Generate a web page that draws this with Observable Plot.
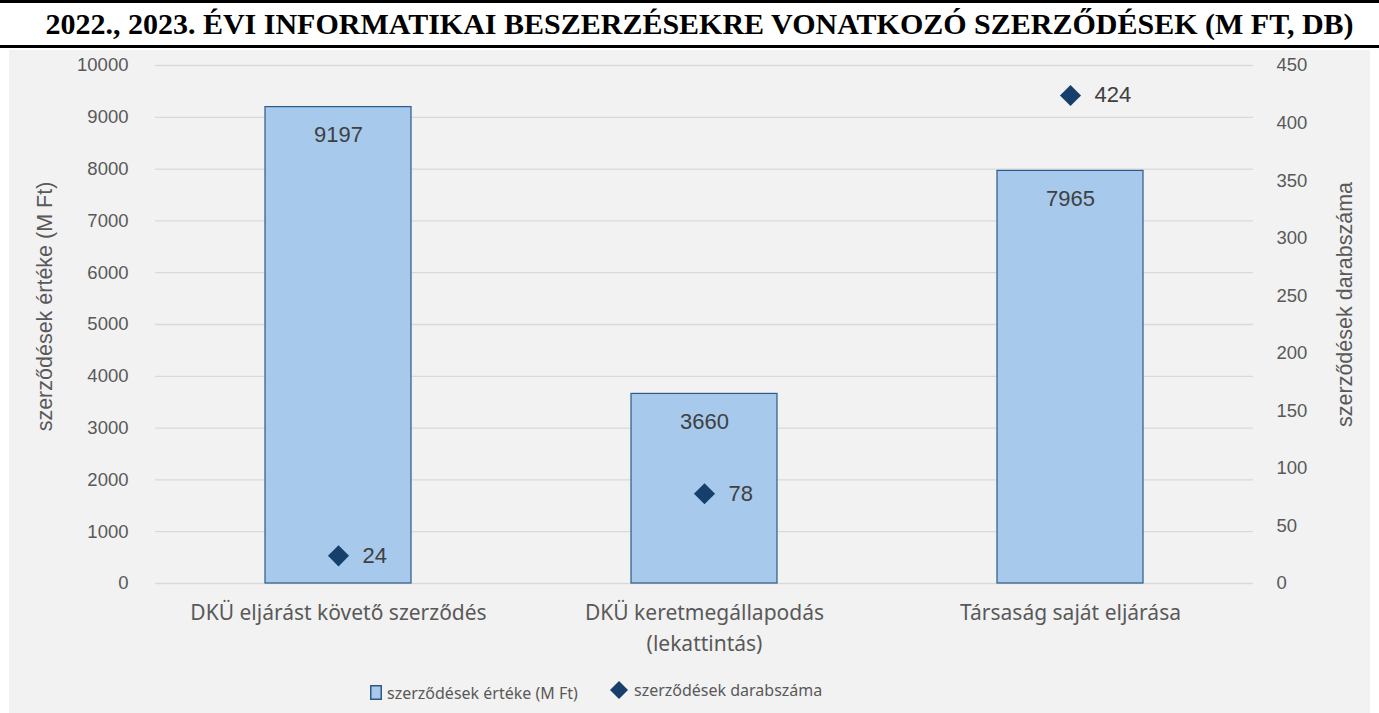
<!DOCTYPE html>
<html>
<head>
<meta charset="utf-8">
<script src="https://cdn.jsdelivr.net/npm/d3@7"></script>
<script src="https://cdn.jsdelivr.net/npm/@observablehq/plot@0.6"></script>
<style>
  html, body { margin: 0; padding: 0; background: #fff; }
  #title {
    position: absolute; left: 0; top: 0; width: 1359px; height: 42px; padding-left: 20px;
    border-top: 3px solid #000; border-bottom: 3px solid #000;
    font-family: "Liberation Serif", "DejaVu Serif", serif; font-weight: bold;
    font-size: 30px; line-height: 42px; text-align: center; color: #000;
    white-space: nowrap; box-sizing: content-box;
  }
  #panel {
    position: absolute; left: 9px; top: 50px; width: 1361px; height: 663px;
    background: #f2f2f2;
  }
  #legend {
    position: absolute; left: 361px; top: 629px; white-space: nowrap;
    font-family: "Noto Sans", sans-serif; font-size: 16px; color: #595959;
  }
  #legend span.item { display: inline-flex; align-items: center; }
  #legend span.item + span.item { margin-left: 27px; }
  #legend svg { margin-right: 5px; }
</style>
</head>
<body>
<div id="title">2022., 2023. ÉVI INFORMATIKAI BESZERZÉSEKRE VONATKOZÓ SZERZŐDÉSEK (M FT, DB)</div>
<div id="panel">
  <div id="chart"></div>
  <div id="legend">
    <span class="item"><svg width="12" height="15"><rect x="0.75" y="0.75" width="10.5" height="13.5" fill="#a6c9ec" stroke="#2e5a87" stroke-width="1.5"/></svg>szerződések értéke (M Ft)</span>
    <span class="item"><svg width="20" height="20"><path d="M10,1 L19,10 L10,19 L1,10 Z" fill="#173f6b"/></svg>szerződések darabszáma</span>
  </div>
</div>
<script>
const categories = ["DKÜ eljárást követő szerződés", "DKÜ keretmegállapodás\n(lekattintás)", "Társaság saját eljárása"];
const values = [9197, 3660, 7965];
const counts = [24, 78, 424];
const leftTicks = [0, 1000, 2000, 3000, 4000, 5000, 6000, 7000, 8000, 9000, 10000];
const rightTicks = [0, 50, 100, 150, 200, 250, 300, 350, 400, 450];
const leftTitle = "szerződések értéke (M Ft)";
const rightTitle = "szerződések darabszáma";

const LEFT_MAX = 10000, RIGHT_MAX = 450;
const toLeft = v => v * LEFT_MAX / RIGHT_MAX;

const data = categories.map((c, i) => ({cat: c, value: values[i], count: counts[i]}));

const tickFont = "Liberation Sans, Arial, sans-serif";

const chart = Plot.plot({
  width: 1361,
  height: 620,
  marginLeft: 146,
  marginRight: 117,
  marginTop: 15,
  marginBottom: 87,
  style: {background: "transparent", fontFamily: tickFont, color: "#595959", overflow: "visible"},
  x: {domain: categories, paddingInner: 0.6, paddingOuter: 0.3, label: null},
  y: {domain: [0, LEFT_MAX], label: null},
  marks: [
    Plot.ruleY(leftTicks, {stroke: "#d9d9d9", strokeWidth: 1.3}),
    Plot.barY(data, {x: "cat", y: "value", fill: "#a6c9ec", stroke: "#2e5a87", strokeWidth: 1.2}),
    Plot.text(data, {x: "cat", y: "value", text: d => String(d.value), dy: 28, fontSize: 22, fill: "#404040", fontFamily: tickFont}),
    Plot.dot(data, {x: "cat", y: d => toLeft(d.count), symbol: "diamond2", r: 9.5, fill: "#173f6b", stroke: "none"}),
    Plot.text(data, {x: "cat", y: d => toLeft(d.count), text: d => String(d.count), dx: 24, textAnchor: "start", fontSize: 22, fill: "#404040", fontFamily: tickFont}),
    Plot.axisY(leftTicks, {anchor: "left", tickSize: 0, tickPadding: 27, fontSize: 18.5, fill: "#595959", fontFamily: tickFont,
      tickFormat: d => String(d), label: null}),
    Plot.axisY(rightTicks.map(toLeft), {anchor: "right", tickSize: 0, tickPadding: 23, fontSize: 18.5, fill: "#595959", fontFamily: tickFont,
      tickFormat: v => String(Math.round(v * RIGHT_MAX / LEFT_MAX)), label: null}),
    Plot.text([leftTitle], {text: d => d, frameAnchor: "left", textAnchor: "middle", dx: -110, dy: -18, rotate: -90, fontSize: 21.5, fill: "#595959", fontFamily: tickFont}),
    Plot.text([rightTitle], {text: d => d, frameAnchor: "right", textAnchor: "middle", dx: 92, dy: -20, rotate: -90, fontSize: 21.5, fill: "#595959", fontFamily: tickFont}),
    Plot.axisX({tickSize: 0, tickPadding: 14, fontSize: 21, fill: "#595959", fontFamily: "Noto Sans, sans-serif", lineHeight: 1.5, label: null})
  ]
});
document.getElementById("chart").appendChild(chart);
</script>
</body>
</html>
